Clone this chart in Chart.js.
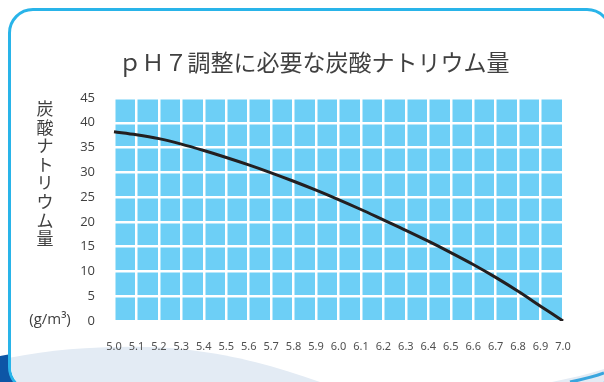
<!DOCTYPE html>
<html>
<head>
<meta charset="utf-8">
<script src="https://cdn.jsdelivr.net/npm/chart.js@4/dist/chart.umd.min.js"></script>
<style>
  html, body { margin: 0; padding: 0; background: #fff; }
  body { width: 604px; height: 382px; overflow: hidden; position: relative; }
  #back { position: absolute; left: 0; top: 0; }
  #frame {
    position: absolute; left: 8px; top: 8px; width: 604px; height: 384px;
    box-sizing: border-box; border: 3px solid #29b4e9; border-radius: 25px;
    background: #fff; overflow: hidden;
  }
  #frame svg { position: absolute; left: -11px; top: -11px; }
  #chart { position: absolute; left: 0; top: 0; }
</style>
</head>
<body>
<svg id="back" width="604" height="382">
  <path d="M0,356 C20,352 40,350 60,352 L60,382 L0,382 Z" fill="#0d56a6"/>
</svg>
<div id="frame">
  <svg width="604" height="382">
    <path d="M0,360 C60,346 140,344 190,350 C240,356 280,368 320,382 L0,382 Z" fill="#e3ebf4"/>
    <path d="M552,382 C570,378 590,374 604,369 L604,382 Z" fill="#e3ebf4"/>
    <path d="M570,382 C585,379 596,376 604,373" stroke="#3aa6de" stroke-width="3" fill="none"/>
  </svg>
</div>
<canvas id="chart" width="604" height="382"></canvas>
<script>
const title = 'ｐＨ７調整に必要な炭酸ナトリウム量';
const yTitle = '炭酸ナトリウム量';
const unitLabel = '(g/m³)';

const phLabels = ['5.0', '5.1', '5.2', '5.3', '5.4', '5.5', '5.6', '5.7', '5.8', '5.9', '6.0',
    '6.1', '6.2', '6.3', '6.4', '6.5', '6.6', '6.7', '6.8', '6.9', '7.0'];
const sodaAmounts = [38.2, 37.6, 36.8, 35.7, 34.4, 33.0, 31.5, 29.9, 28.2, 26.4, 24.5,
    22.5, 20.4, 18.3, 16.1, 13.8, 11.4, 8.8, 6.0, 3.0, 0];

const yMin = 0;
const yMax = 45;
const yStep = 5;

const plotBlue = '#6dcff6';
const textGray = '#404040';

// blue plot background + the texts that sit outside the axes
const decor = {
    id: 'decor',
    beforeDraw(chart) {
        const ctx = chart.ctx;
        const a = chart.chartArea;
        ctx.save();
        ctx.fillStyle = plotBlue;
        ctx.fillRect(a.left, a.top, a.right - a.left, a.bottom - a.top);
        ctx.restore();
    },
    afterDraw(chart) {
        const ctx = chart.ctx;
        ctx.save();
        ctx.fillStyle = textGray;
        ctx.textAlign = 'center';
        ctx.textBaseline = 'middle';
        ctx.font = '23px "Noto Sans CJK JP"';
        ctx.fillText(title, 314, 62);
        ctx.font = '17px "Noto Sans CJK JP"';
        [...yTitle].forEach((ch, i) => {
            ctx.fillText(ch, 45, 108.5 + i * 18.6);
        });
        ctx.font = '15px "Open Sans"';
        ctx.fillText(unitLabel, 50, 320);
        ctx.restore();
    }
};

const ctx = document.getElementById('chart');

new Chart(ctx, {
    type: 'line',
    data: {
        labels: phLabels,
        datasets: [{
            data: sodaAmounts,
            borderColor: '#231f20',
            borderWidth: 3,
            pointRadius: 0,
            cubicInterpolationMode: 'monotone',
            fill: false
        }]
    },
    options: {
        responsive: false,
        animation: false,
        devicePixelRatio: 1,
        layout: {
            padding: { left: 0, right: 41, top: 98, bottom: 0 }
        },
        plugins: {
            legend: { display: false },
            title: { display: false },
            tooltip: { enabled: false }
        },
        scales: {
            x: {
                grid: { color: '#ffffff', lineWidth: 2.5, drawTicks: false },
                border: { display: false },
                ticks: {
                    autoSkip: false,
                    maxRotation: 0,
                    padding: 19,
                    color: '#505050',
                    font: { family: '"Liberation Sans Narrow", "Noto Sans"', size: 11 }
                },
                afterFit(scale) { scale.height = 61; }
            },
            y: {
                min: yMin,
                max: yMax,
                grid: { color: '#ffffff', lineWidth: 2.5, drawTicks: false },
                border: { display: false },
                ticks: {
                    stepSize: yStep,
                    padding: 19,
                    color: textGray,
                    font: { family: '"Open Sans"', size: 13 }
                },
                afterFit(scale) { scale.width = 114; }
            }
        }
    },
    plugins: [decor]
});
</script>
</body>
</html>
